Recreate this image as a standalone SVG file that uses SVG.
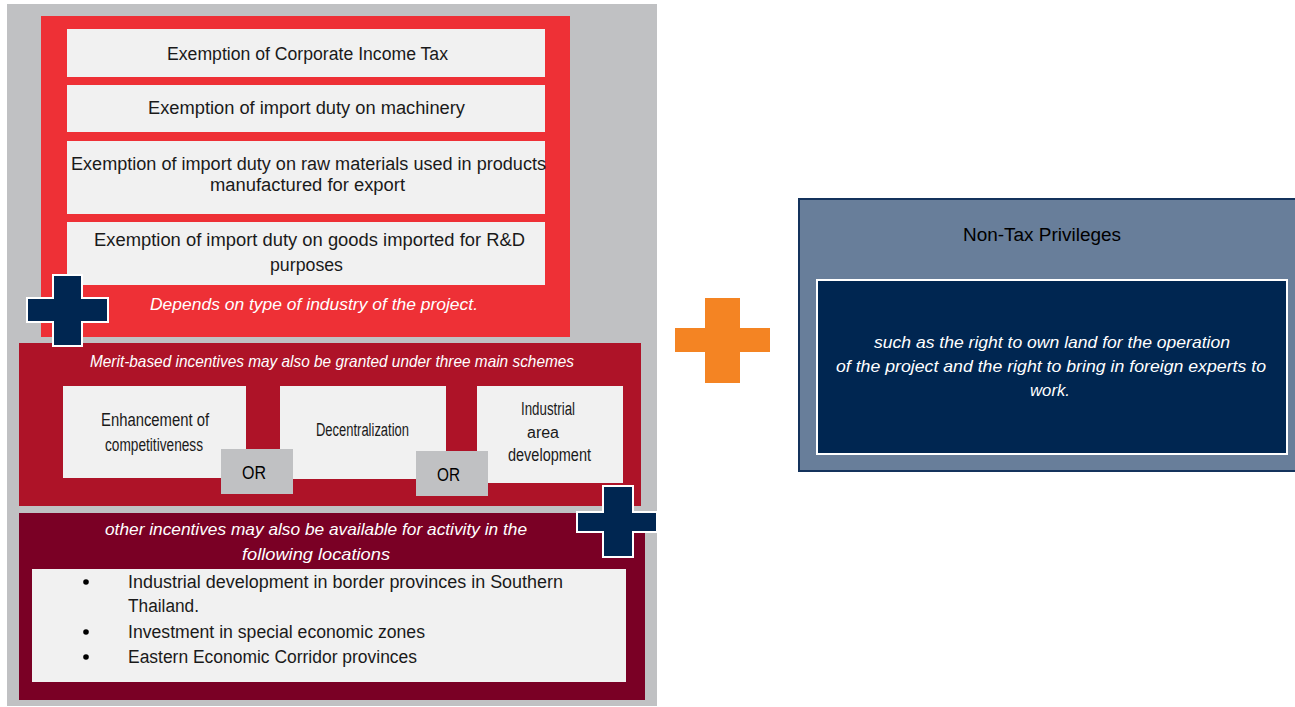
<svg xmlns="http://www.w3.org/2000/svg" width="1295" height="707" viewBox="0 0 1295 707">
<style>
.t{font-family:"Liberation Sans",Arial,sans-serif;font-size:18px;fill:#1a1a1a;text-anchor:start}
.i{font-family:"Liberation Sans",Arial,sans-serif;font-size:17px;font-style:italic;fill:#ffffff}
.box{fill:#f1f1f1}
.navy{fill:#002651;stroke:#ffffff;stroke-width:2}
.or{fill:#c0c1c3}
</style>
<rect x="0" y="0" width="1295" height="707" fill="#ffffff"/>
<g id="background">
<rect x="7" y="4" width="650" height="702" fill="#c0c1c3"/>
</g>
<g id="tax-exemptions">
<rect x="41" y="16" width="529" height="321" fill="#ee3036"/>
<rect class="box" x="67" y="29" width="478" height="48"/>
<rect class="box" x="67" y="85" width="478" height="47"/>
<rect class="box" x="67" y="141" width="478" height="73"/>
<rect class="box" x="67" y="222" width="478" height="63"/>
<text class="t" x="167" y="60" textLength="281" lengthAdjust="spacingAndGlyphs">Exemption of Corporate Income Tax</text>
<text class="t" x="148" y="114" textLength="317" lengthAdjust="spacingAndGlyphs">Exemption of import duty on machinery</text>
<text class="t" x="71" y="170" textLength="475" lengthAdjust="spacingAndGlyphs">Exemption of import duty on raw materials used in products</text>
<text class="t" x="210" y="191" textLength="195" lengthAdjust="spacingAndGlyphs">manufactured for export</text>
<text class="t" x="94" y="246" textLength="431" lengthAdjust="spacingAndGlyphs">Exemption of import duty on goods imported for R&amp;D</text>
<text class="t" x="270" y="271" textLength="73" lengthAdjust="spacingAndGlyphs">purposes</text>
<text class="i" x="150" y="310" textLength="328" lengthAdjust="spacingAndGlyphs">Depends on type of industry of the project.</text>
</g>
<g id="merit-schemes">
<rect x="19" y="343" width="622" height="163" fill="#ae1328"/>
<text class="i" x="90" y="367" textLength="484" lengthAdjust="spacingAndGlyphs">Merit-based incentives may also be granted under three main schemes</text>
<rect class="box" x="63" y="386" width="183" height="92"/>
<rect class="box" x="280" y="386" width="166" height="93"/>
<rect class="box" x="477" y="386" width="146" height="97"/>
<text class="t" x="101" y="426" textLength="108" lengthAdjust="spacingAndGlyphs">Enhancement  of</text>
<text class="t" x="105" y="451" textLength="98" lengthAdjust="spacingAndGlyphs">competitiveness</text>
<text class="t" x="316" y="436" textLength="93" lengthAdjust="spacingAndGlyphs">Decentralization</text>
<text class="t" x="521" y="415" textLength="54" lengthAdjust="spacingAndGlyphs">Industrial</text>
<text class="t" x="543" y="438" style="text-anchor:middle;font-size:16px">area</text>
<text class="t" x="508" y="461" textLength="83" lengthAdjust="spacingAndGlyphs">development</text>
</g>
<g id="or-1">
<rect class="or" x="221" y="449" width="72" height="45"/>
<text class="t" x="242" y="479" textLength="24" lengthAdjust="spacingAndGlyphs" style="fill:#000">OR</text>
</g>
<g id="or-2">
<rect class="or" x="416" y="451" width="72" height="45"/>
<text class="t" x="437" y="481" textLength="23" lengthAdjust="spacingAndGlyphs" style="fill:#000">OR</text>
</g>
<g id="locations">
<rect x="19" y="513" width="626" height="187" fill="#7a0025"/>
<text class="i" x="105" y="535" textLength="422" lengthAdjust="spacingAndGlyphs">other incentives may also be available for activity in the</text>
<text class="i" x="242" y="560" textLength="148" lengthAdjust="spacingAndGlyphs">following locations</text>
<rect class="box" x="32" y="569" width="594" height="113"/>
<circle cx="86" cy="582" r="2.8" fill="#000"/>
<circle cx="86" cy="632" r="2.8" fill="#000"/>
<circle cx="86" cy="657" r="2.8" fill="#000"/>
<text class="t" x="128" y="588" textLength="435" lengthAdjust="spacingAndGlyphs">Industrial development in border provinces in Southern</text>
<text class="t" x="128" y="612" textLength="71" lengthAdjust="spacingAndGlyphs">Thailand.</text>
<text class="t" x="128" y="638" textLength="297" lengthAdjust="spacingAndGlyphs">Investment in special economic zones</text>
<text class="t" x="128" y="663" textLength="289" lengthAdjust="spacingAndGlyphs">Eastern Economic Corridor provinces</text>
</g>
<g id="plus-1">
<path class="navy" d="M53 275 H82 V298 H108 V322 H82 V346 H53 V322 H27 V298 H53 Z"/>
</g>
<g id="plus-2">
<path class="navy" d="M603 486 H633 V512 H657 V532 H633 V557 H603 V532 H577 V512 H603 Z"/>
</g>
<g id="plus-orange">
<path d="M705 298 H740 V328 H770 V352 H740 V383 H705 V352 H675 V328 H705 Z" fill="#f48423"/>
</g>
<g id="non-tax">
<rect x="799" y="199" width="497" height="272" fill="#687e9a" stroke="#14335c" stroke-width="2"/>
<text class="t" x="963" y="241" textLength="158" lengthAdjust="spacingAndGlyphs" style="fill:#000">Non-Tax Privileges</text>
<rect x="817" y="280" width="470" height="174" fill="#002651" stroke="#ffffff" stroke-width="2"/>
<text class="i" x="874" y="348" textLength="356" lengthAdjust="spacingAndGlyphs">such as the right to own land for the operation</text>
<text class="i" x="836" y="372" textLength="430" lengthAdjust="spacingAndGlyphs">of the project and the right to bring in foreign experts to</text>
<text class="i" x="1030" y="396" textLength="40" lengthAdjust="spacingAndGlyphs">work.</text>
</g>
<g id="connectors"></g>
</svg>
